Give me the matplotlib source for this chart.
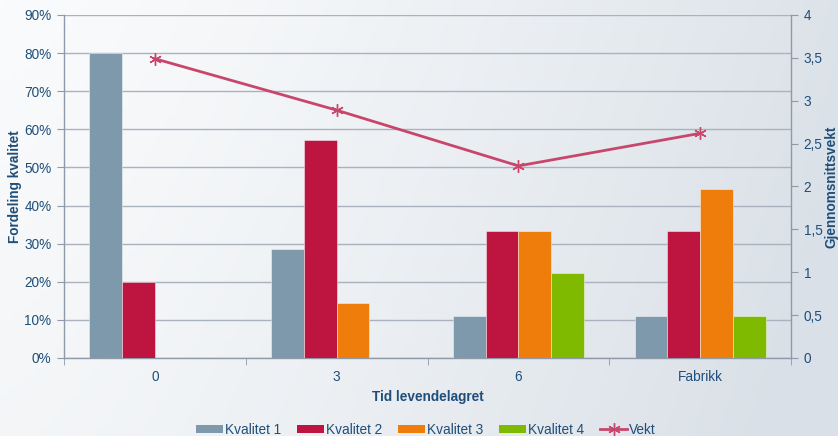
import numpy as np
import matplotlib
matplotlib.use("Agg")
import matplotlib.pyplot as plt
from matplotlib.ticker import FixedLocator, FuncFormatter
from matplotlib.lines import Line2D
from matplotlib.patches import Patch

plt.rcParams["font.family"] = ["Liberation Sans", "DejaVu Sans"]

# Andel per kvalitetsklasse (0..1) og gjennomsnittsvekt per tidspunkt
categories = ["0", "3", "6", "Fabrikk"]
series_names = ["Kvalitet 1", "Kvalitet 2", "Kvalitet 3", "Kvalitet 4"]
kvalitet_1 = [0.80, 0.286, 0.111, 0.111]
kvalitet_2 = [0.20, 0.571, 0.333, 0.333]
kvalitet_3 = [0.0, 0.143, 0.333, 0.444]
kvalitet_4 = [0.0, 0.0, 0.222, 0.111]
vekt = [3.49, 2.89, 2.24, 2.62]

colors = ["#7d99ab", "#be1540", "#ee7d0b", "#7fba00"]
line_color = "#c8466c"
text_color = "#1f4e79"
grid_color = "#aab1bf"
spine_color = "#8f99aa"

fig = plt.figure(figsize=(8.38, 4.36), dpi=100)

# Bakgrunn med svak gradient fra venstre mot høyre
bg = fig.add_axes([0, 0, 1, 1], zorder=-10)
gx = np.linspace(0, 1, 256)
gy = np.linspace(0, 1, 64)[:, None]
left_c = np.array([0xfa, 0xfb, 0xfc]) / 255
right_c = np.array([0xd9, 0xe0, 0xe7]) / 255
t = np.clip(gx[None, :] ** 1.4 * 0.9 + gy * 0.2, 0, 1)[..., None]
grad = left_c * (1 - t) + right_c * t
bg.imshow(grad, aspect="auto", extent=[0, 1, 0, 1], origin="upper")
bg.axis("off")

ax = fig.add_axes([0.0764, 0.179, 0.8676, 0.7866])
ax.patch.set_visible(False)

x = np.arange(len(categories))
width = 0.18
series = [kvalitet_1, kvalitet_2, kvalitet_3, kvalitet_4]
for i, (vals, name, c) in enumerate(zip(series, series_names, colors)):
    offs = (i - 1.5) * width
    ax.bar(x + offs, vals, width, color=c, edgecolor=(1, 1, 1, 0.45),
           linewidth=0.7, label=name, zorder=3)

ax.set_xlim(-0.5, len(categories) - 0.5)
ax.set_ylim(0, 0.9)
ax.set_yticks(np.arange(0, 0.91, 0.1))
ax.yaxis.set_major_formatter(FuncFormatter(lambda v, _: f"{v*100:.0f}%"))
ax.grid(axis="y", color=grid_color, linewidth=1.0, zorder=0)
ax.set_axisbelow(True)

ax.set_xticks(x)
ax.set_xticklabels(categories)
ax.xaxis.set_minor_locator(FixedLocator(np.arange(-0.5, len(categories), 1.0)))
ax.tick_params(axis="x", which="major", length=0, pad=9)
ax.tick_params(axis="x", which="minor", length=5, color=spine_color, direction="out")
ax.tick_params(axis="y", length=5, color=spine_color, direction="out", pad=4)
ax.tick_params(labelsize=9.8, labelcolor=text_color)

for side in ["left", "right", "bottom"]:
    ax.spines[side].set_color(spine_color)
    ax.spines[side].set_linewidth(1.0)
ax.spines["top"].set_visible(False)

ax.set_xlabel("Tid levendelagret", fontsize=9.8, fontweight="bold",
              color=text_color, labelpad=4)
ax.set_ylabel("Fordeling kvalitet", fontsize=9.8, fontweight="bold",
              color=text_color)
ax.yaxis.set_label_coords(-0.058, 0.5)

ax2 = ax.twinx()
ax2.set_ylim(0, 4)
ax2.set_yticks(np.arange(0, 4.01, 0.5))
ax2.yaxis.set_major_formatter(FuncFormatter(
    lambda v, _: (f"{v:g}").replace(".", ",")))
ax2.tick_params(axis="y", length=5, color=spine_color, direction="out",
                labelsize=9.8, labelcolor=text_color, pad=4)
for side in ["left", "right", "bottom", "top"]:
    ax2.spines[side].set_visible(False)
ax2.plot(x, vekt, color=line_color, linewidth=2.0, marker=(6, 2, 0),
         markersize=9, markeredgewidth=1.0, zorder=5)
ax2.set_ylabel("Gjennomsnittsvekt", fontsize=9.8, fontweight="bold",
               color=text_color)
ax2.yaxis.set_label_coords(1.046, 0.5)

handles = [Patch(facecolor=c, edgecolor="none", label=n)
           for c, n in zip(colors, series_names)]
handles.append(Line2D([0], [0], color=line_color, linewidth=2.0,
                      marker=(6, 2, 0), markersize=9, label="Vekt"))
fig.legend(handles=handles, loc="lower center", ncol=5, frameon=False,
           bbox_to_anchor=(0.508, -0.03), fontsize=9.8, labelcolor=text_color,
           handlelength=2.0, handleheight=0.55, handletextpad=0.1,
           columnspacing=1.2)

fig.savefig("out.png", dpi=100)
